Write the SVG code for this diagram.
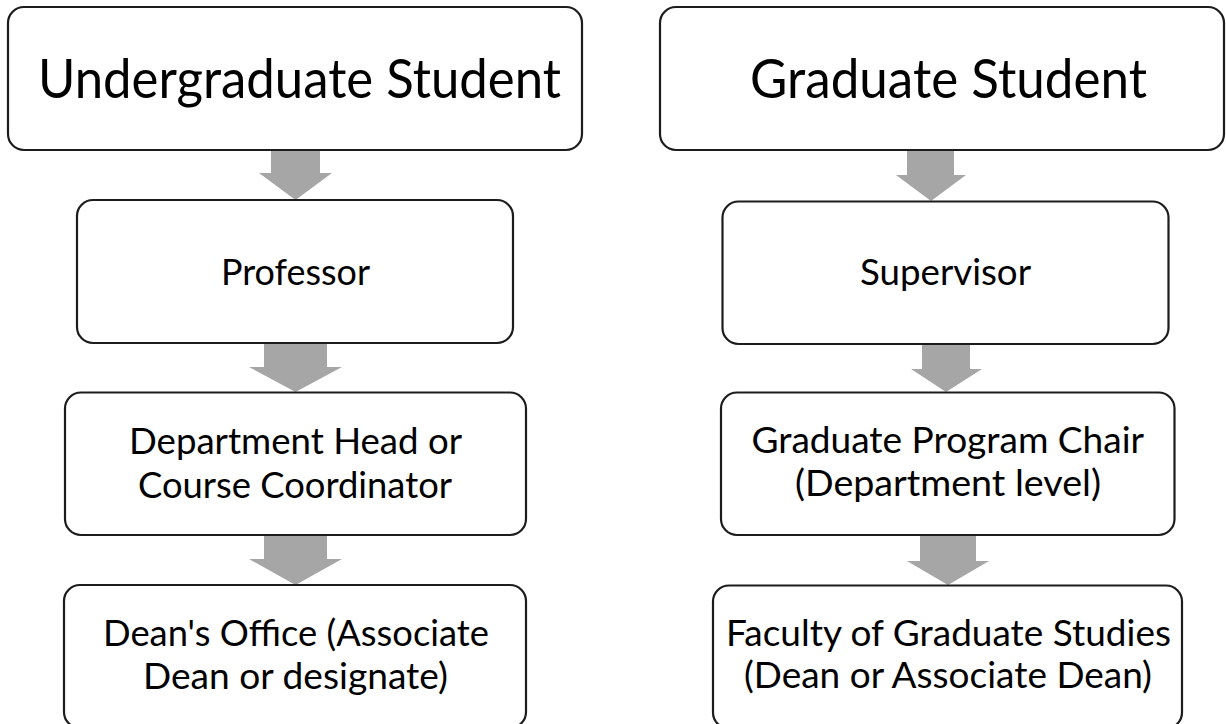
<svg xmlns="http://www.w3.org/2000/svg" width="1226" height="724" viewBox="0 0 1226 724">
<style>
.box{fill:#ffffff;stroke:#1c1c1c;stroke-width:2.2}
.arr{fill:#a6a6a6;stroke:none}
text{font-family:Lato,"Liberation Sans",sans-serif;fill:#000000}
.t{font-size:54px}
.b{font-size:37px}
</style>
<rect width="1226" height="724" fill="#ffffff"/>
<g id="connectors">
<polygon class="arr" points="271,149 320,149 320,173 332,173 295.5,200 259,173 271,173"/>
<polygon class="arr" points="264,342 327,342 327,367 342,367 295.5,392 249,367 264,367"/>
<polygon class="arr" points="264,535 327,535 327,559 342,559 295.5,585 249,559 264,559"/>
<polygon class="arr" points="907,149 954,149 954,175 966,175 931,201 896,175 907,175"/>
<polygon class="arr" points="922,343 970,343 970,369 982,369 946,392 911,369 922,369"/>
<polygon class="arr" points="920,535 976,535 976,561 989,561 948,585 907,561 920,561"/>
</g>
<g id="undergrad">
<rect class="box" x="8" y="7" width="574" height="143" rx="16"/>
<text class="t" x="38" y="98" textLength="523" lengthAdjust="spacingAndGlyphs">Undergraduate Student</text>
</g>
<g id="professor">
<rect class="box" x="77" y="200" width="436" height="143" rx="16"/>
<text class="b" x="221" y="285" textLength="149" lengthAdjust="spacingAndGlyphs">Professor</text>
</g>
<g id="depthead">
<rect class="box" x="65" y="392.5" width="461" height="142.5" rx="16"/>
<text class="b" x="129" y="454" textLength="333" lengthAdjust="spacingAndGlyphs">Department Head or</text>
<text class="b" x="138" y="498" textLength="314" lengthAdjust="spacingAndGlyphs">Course Coordinator</text>
</g>
<g id="deansoffice">
<rect class="box" x="64" y="585" width="462" height="143" rx="16"/>
<text class="b" x="103" y="646" textLength="386" lengthAdjust="spacingAndGlyphs">Dean's Office (Associate</text>
<text class="b" x="143" y="689" textLength="305" lengthAdjust="spacingAndGlyphs">Dean or designate)</text>
</g>
<g id="grad">
<rect class="box" x="660" y="7" width="564" height="143" rx="16"/>
<text class="t" x="750" y="98" textLength="397" lengthAdjust="spacingAndGlyphs">Graduate Student</text>
</g>
<g id="supervisor">
<rect class="box" x="722.5" y="201.5" width="446" height="142.5" rx="16"/>
<text class="b" x="860" y="285" textLength="171" lengthAdjust="spacingAndGlyphs">Supervisor</text>
</g>
<g id="gpc">
<rect class="box" x="721" y="392.5" width="453.5" height="142.5" rx="16"/>
<text class="b" x="751.5" y="453" textLength="392.5" lengthAdjust="spacingAndGlyphs">Graduate Program Chair</text>
<text class="b" x="795" y="496" textLength="306" lengthAdjust="spacingAndGlyphs">(Department level)</text>
</g>
<g id="fgs">
<rect class="box" x="713" y="585.5" width="469" height="143" rx="16"/>
<text class="b" x="726" y="646" textLength="445" lengthAdjust="spacingAndGlyphs">Faculty of Graduate Studies</text>
<text class="b" x="744" y="688" textLength="408" lengthAdjust="spacingAndGlyphs">(Dean or Associate Dean)</text>
</g>
</svg>
